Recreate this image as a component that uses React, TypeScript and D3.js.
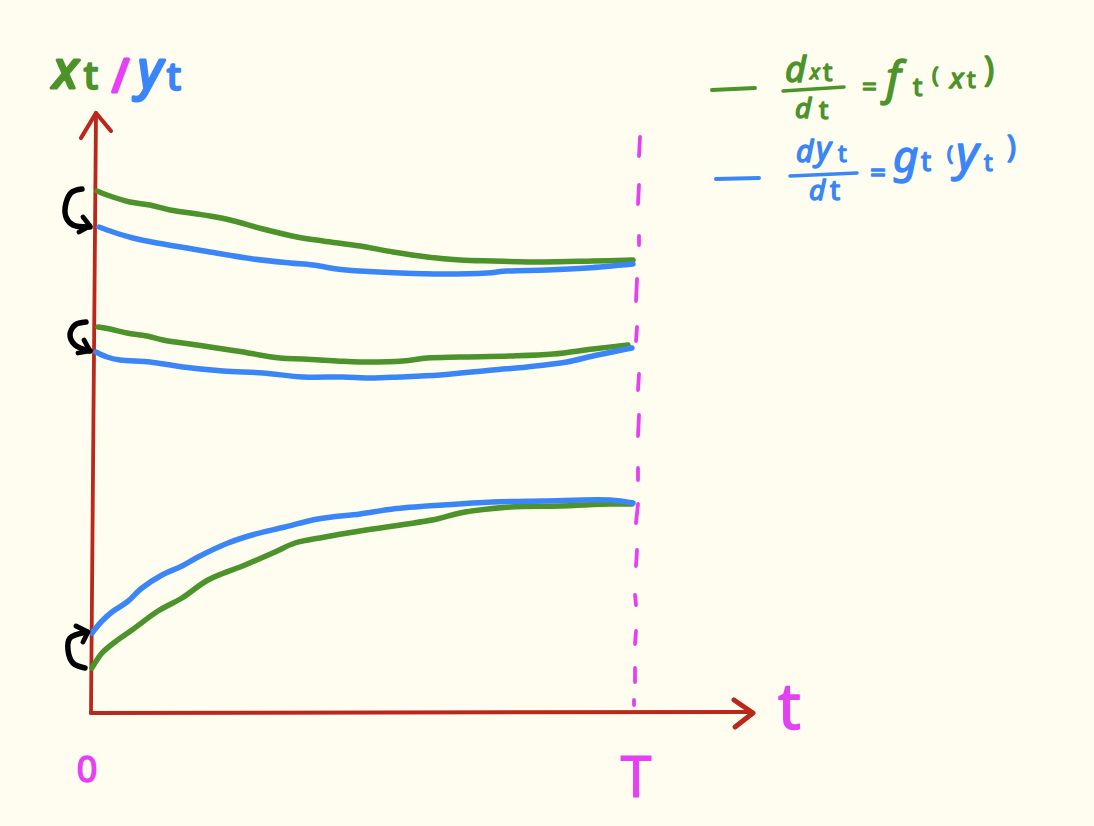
import React from "react";
import * as d3 from "d3";

type P = [number, number];

const greenTop: P[] = [[6,522],[16,518],[39,511],[59,508],[79,503],[106,499],[119,497],[139,493],[172,484],[206,476],[232,472],[269,467],[302,461],[336,456],[369,453],[402,452],[452,451],[502,452],[542,453]];
const blueTop: P[] = [[8,486],[22,481],[42,475],[66,470],[96,465],[119,461],[162,454],[199,450],[222,448],[246,444],[269,442],[309,440],[352,439],[396,440],[416,442],[456,443],[496,445],[542,449]];
const greenMid: P[] = [[7,386],[19,384],[36,380],[56,377],[72,373],[106,368],[146,362],[189,355],[212,354],[246,352],[269,351],[312,352],[336,355],[369,356],[419,357],[462,359],[502,364],[537,368]];
const blueMid: P[] = [[5,361],[16,356],[29,353],[59,351],[92,346],[132,342],[172,340],[212,336],[252,336],[279,335],[309,336],[349,338],[402,343],[436,346],[476,351],[502,357],[541,365]];
const greenBot: P[] = [[1,45],[11,60],[24,71],[41,83],[67,102],[91,115],[117,133],[154,148],[184,161],[204,170],[234,176],[269,182],[346,194],[369,200],[419,206],[469,207],[519,209],[541,209]];
const blueBot: P[] = [[1,80],[11,92],[21,101],[36,111],[51,125],[71,138],[91,147],[107,156],[137,170],[161,178],[194,186],[227,194],[269,199],[302,204],[352,208],[402,211],[452,212],[519,213],[542,210]];

const tDashes: P[][] = [
  [[549,576],[548,557]],[[548,528],[547,509]],[[548,477],[548,468]],[[546,434],[545,412]],
  [[546,386],[545,372]],[[548,339],[547,323]],[[548,298],[547,277]],[[547,245],[547,233]],
  [[547,209],[545,190]],[[546,163],[545,147]],[[544,118],[545,108]],[[545,82],[544,69]],
  [[544,45],[544,31]],[[543,13],[543,8]],
];

const yAxisLine: P[] = [[0,0],[5,600]];
const yAxisHead: P[] = [[-10,575],[5,600],[20,582]];
const xAxisLine: P[] = [[0,0],[661,1]];
const xAxisHead: P[] = [[643,13],[662,0],[644,-14]];

const hooks: P[][] = [
  [[-9,524],[-19,521],[-25,510],[-25,496],[-18,488],[-1,486]],
  [[-5,391],[-16,388],[-21,378],[-16,368],[-1,362]],
  [[-6,45],[-18,50],[-23,63],[-21,75],[-4,81]],
];
const hookHeads: P[][] = [
  [[-8,496],[-1,487],[-12,481]],
  [[-7,373],[-1,362],[-13,360]],
  [[-15,87],[-3,81],[-8,71]],
];

const legendGreenDash: P[] = [[621,623],[664,625]];
const legendBlueDash: P[] = [[625,534],[668,535]];
const legendGreenBar: P[] = [[692,622],[753,626]];
const legendBlueBar: P[] = [[699,537],[766,540]];

const GREEN = "#4b932a";
const BLUE = "#3b86f7";
const MAGENTA = "#e640f5";
const RED = "#b9281a";
const BG = "#fffdf0";

const tScale = d3.scaleLinear().domain([0, 543]).range([91, 634]);
const vScale = d3.scaleLinear().domain([0, 600]).range([713, 113]);

const curved = d3.line<P>().x((d) => tScale(d[0])).y((d) => vScale(d[1])).curve(d3.curveCatmullRom.alpha(0.5));
const straight = d3.line<P>().x((d) => tScale(d[0])).y((d) => vScale(d[1]));

const FONT = "'Noto Sans', sans-serif";

function Label(props: { x: number; y: number; size: number; color: string; text: string; anchor?: string; weight?: number; italic?: boolean }) {
  const { x, y, size, color, text, anchor, weight, italic } = props;
  return (
    <text
      x={x}
      y={y}
      fontFamily={FONT}
      fontSize={size}
      fontStyle={italic === false ? "normal" : "italic"}
      fontWeight={400}
      fill={color}
      stroke={color}
      strokeWidth={weight ?? 1.4}
      strokeLinejoin="round"
      textAnchor={anchor ?? "start"}
    >
      {text}
    </text>
  );
}

export default function App() {
  const base = { fill: "none", strokeLinecap: "round" as const, strokeLinejoin: "round" as const };
  return (
    <svg width={1094} height={826} style={{ position: "absolute", left: 0, top: 0, display: "block" }}>
      <rect width={1094} height={826} fill={BG} />

      {tDashes.map((d, i) => (
        <path key={i} d={straight(d)!} {...base} stroke={MAGENTA} strokeWidth={3.8} />
      ))}

      <path d={straight(yAxisLine)!} {...base} stroke={RED} strokeWidth={3.8} />
      <path d={straight(yAxisHead)!} {...base} stroke={RED} strokeWidth={4.2} />
      <path d={straight(xAxisLine)!} {...base} stroke={RED} strokeWidth={4} />
      <path d={straight(xAxisHead)!} {...base} stroke={RED} strokeWidth={5} />

      {[greenTop, greenMid, greenBot].map((d, i) => (
        <path key={i} d={curved(d)!} {...base} stroke={GREEN} strokeWidth={5.5} />
      ))}
      {[blueTop, blueMid, blueBot].map((d, i) => (
        <path key={i} d={curved(d)!} {...base} stroke={BLUE} strokeWidth={5.5} />
      ))}

      {hooks.map((d, i) => (
        <path key={i} d={curved(d)!} {...base} stroke="#000" strokeWidth={5.5} />
      ))}
      {hookHeads.map((d, i) => (
        <path key={i} d={straight(d)!} {...base} stroke="#000" strokeWidth={4.8} />
      ))}

      <Label x={53} y={88} size={52} color={GREEN} text="x" weight={3} />
      <Label x={84} y={89} size={38} color={GREEN} text="t" weight={2.5} italic={false} />
      <Label x={112} y={92} size={46} color={MAGENTA} text="/" weight={3} italic={false} />
      <Label x={138} y={88} size={52} color={BLUE} text="y" weight={3} />
      <Label x={167} y={90} size={38} color={BLUE} text="t" weight={2.5} italic={false} />

      <Label x={778} y={729} size={63} color={MAGENTA} text="t" weight={1.5} italic={false} />
      <Label x={87} y={782} size={36} color={MAGENTA} text="0" weight={1.5} anchor="middle" italic={false} />
      <Label x={636} y={797} size={56} color={MAGENTA} text="T" weight={1} anchor="middle" italic={false} />

      <path d={straight(legendGreenDash)!} {...base} stroke={GREEN} strokeWidth={4} />
      <path d={straight(legendBlueDash)!} {...base} stroke={BLUE} strokeWidth={4} />
      <path d={straight(legendGreenBar)!} {...base} stroke={GREEN} strokeWidth={3.5} />
      <path d={straight(legendBlueBar)!} {...base} stroke={BLUE} strokeWidth={3.5} />

      <Label x={785} y={82} size={36} color={GREEN} text="d" />
      <Label x={810} y={79} size={20} color={GREEN} text="x" />
      <Label x={823} y={81} size={26} color={GREEN} text="t" italic={false} />
      <Label x={795} y={118} size={28} color={GREEN} text="d" />
      <Label x={819} y={119} size={26} color={GREEN} text="t" italic={false} />
      <Label x={862} y={96} size={26} color={GREEN} text="=" italic={false} />
      <Label x={886} y={94} size={46} color={GREEN} text="f" />
      <Label x={913} y={96} size={26} color={GREEN} text="t" italic={false} />
      <Label x={932} y={83} size={22} color={GREEN} text="(" italic={false} />
      <Label x={950} y={88} size={28} color={GREEN} text="x" />
      <Label x={967} y={88} size={24} color={GREEN} text="t" italic={false} />
      <Label x={984} y={81} size={34} color={GREEN} text=")" italic={false} />

      <Label x={796} y={162} size={30} color={BLUE} text="d" />
      <Label x={816} y={160} size={32} color={BLUE} text="y" />
      <Label x={838} y={162} size={24} color={BLUE} text="t" italic={false} />
      <Label x={809} y={200} size={28} color={BLUE} text="d" />
      <Label x={830} y={200} size={28} color={BLUE} text="t" italic={false} />
      <Label x={870} y={182} size={28} color={BLUE} text="=" italic={false} />
      <Label x={893} y={172} size={44} color={BLUE} text="g" />
      <Label x={921} y={171} size={28} color={BLUE} text="t" italic={false} />
      <Label x={947} y={160} size={20} color={BLUE} text="(" italic={false} />
      <Label x={956} y={170} size={48} color={BLUE} text="y" />
      <Label x={984} y={171} size={24} color={BLUE} text="t" italic={false} />
      <Label x={1007} y={157} size={30} color={BLUE} text=")" italic={false} />
    </svg>
  );
}
